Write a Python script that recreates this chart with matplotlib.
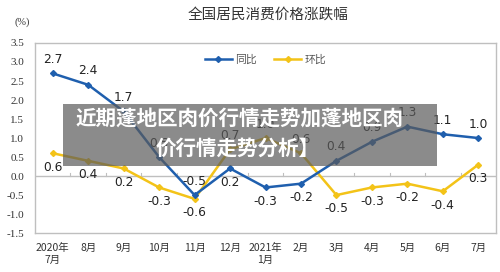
import matplotlib
matplotlib.use("Agg")
from matplotlib import pyplot as plt
from matplotlib.patches import Rectangle

plt.rcParams['font.family'] = ['Noto Sans CJK SC', 'DejaVu Sans']

months = ["2020年\n7月", "8月", "9月", "10月", "11月", "12月", "2021年\n1月",
          "2月", "3月", "4月", "5月", "6月", "7月"]
yoy = [2.7, 2.4, 1.7, 0.5, -0.5, 0.2, -0.3, -0.2, 0.4, 0.9, 1.3, 1.1, 1.0]
mom = [0.6, 0.4, 0.2, -0.3, -0.6, 0.7, 1.0, 0.6, -0.5, -0.3, -0.2, -0.4, 0.3]
yticks = [-1.5, -1.0, -0.5, 0.0, 0.5, 1.0, 1.5, 2.0, 2.5, 3.0, 3.5]

# label placement: 1 above, -1 below
yoy_side = [1, 1, 1, 1, 1, -1, -1, -1, 1, 1, 1, 1, 1]
mom_side = [-1, -1, -1, -1, -1, 1, 1, 1, -1, -1, -1, -1, -1]

blue = '#1f5fae'
yellow = '#f3c318'
grey = '#bfbfbf'

fig = plt.figure(figsize=(5, 2.72), dpi=100)
ax = fig.add_axes([0.07, 0.143, 0.922, 0.699])

x = list(range(len(months)))
ax.plot(x, yoy, color=blue, lw=1.8, marker='D', ms=3, label='同比', zorder=3)
ax.plot(x, mom, color=yellow, lw=1.8, marker='D', ms=3, label='环比', zorder=2)

for xi, v, s in zip(x, yoy, yoy_side):
    ax.annotate(f"{v:.1f}", (xi, v), xytext=(0, 10 * s), textcoords='offset points',
                ha='center', va='center', fontsize=8.8, color='#222222', family='DejaVu Sans')
for xi, v, s in zip(x, mom, mom_side):
    ax.annotate(f"{v:.1f}", (xi, v), xytext=(0, 10 * s), textcoords='offset points',
                ha='center', va='center', fontsize=8.8, color='#222222', family='DejaVu Sans')

ax.axhline(0, color=grey, lw=1, zorder=1)
for b in range(len(months) - 1):
    ax.plot([b + 0.5, b + 0.5], [0, 0.08], color=grey, lw=0.8, zorder=1)

ax.set_xlim(-0.5, len(months) - 0.5)
ax.set_ylim(-1.5, 3.5)
ax.set_yticks(yticks)
ax.set_yticklabels([f"{t:.1f}" for t in yticks], family='Liberation Serif', fontsize=8, color='#333333')
ax.set_xticks(x)
ax.set_xticklabels(months, fontsize=7.5, color='#333333', linespacing=1.25)
ax.tick_params(length=0, pad=7)
ax.tick_params(axis='y', pad=8)
for sp in ax.spines.values():
    sp.set_color(grey)
    sp.set_linewidth(1)

ax.legend(loc='upper center', bbox_to_anchor=(0.5, 0.99), ncol=2, frameon=False,
          fontsize=7.8, handlelength=2.5, columnspacing=1.6, handletextpad=0.3,
          labelcolor='#555555')

fig.text(0.536, 0.945, "全国居民消费价格涨跌幅", ha='center', va='center', fontsize=10.5, color='#333333')
fig.text(0.045, 0.92, "(%)", ha='center', va='center', fontsize=7.5, family='Liberation Serif', color='#333333')

# overlay caption box
fig.patches.append(Rectangle((0.126, 1 - 166 / 272), 0.748, 62 / 272, transform=fig.transFigure,
                             facecolor='#5a5a5a', alpha=0.7, edgecolor='none', zorder=10))
fig.text(0.48, 1 - 118 / 272, "近期蓬地区肉价行情走势加蓬地区肉", ha='center', va='center',
         fontsize=14.8, color='white', weight='bold', zorder=11)
fig.text(0.476, 1 - 148 / 272, "价行情走势分析】", ha='center', va='center',
         fontsize=14.8, color='white', weight='bold', zorder=11)

fig.savefig('out.png', dpi=100)
